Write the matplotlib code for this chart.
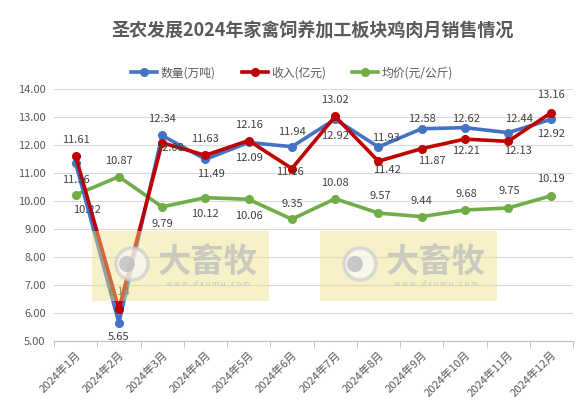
import matplotlib
matplotlib.use('Agg')
import matplotlib.pyplot as plt
from matplotlib.patches import Rectangle, Circle

plt.rcParams['font.family'] = ['Noto Sans CJK SC', 'DejaVu Sans']

# data
months = ['2024年%d月' % m for m in range(1, 13)]
qty = [11.36, 5.65, 12.34, 11.49, 12.09, 11.94, 12.92, 11.93, 12.58, 12.62, 12.44, 12.92]
income = [11.61, 6.14, 12.08, 11.63, 12.16, 11.16, 13.02, 11.42, 11.87, 12.21, 12.13, 13.16]
price = [10.22, 10.87, 9.79, 10.12, 10.06, 9.35, 10.08, 9.57, 9.44, 9.68, 9.75, 10.19]

# label offsets in pixels (dx, dy up)
qty_off = [(0, -17), (0, -14), (0, 16), (6, -15), (0, -16), (0, 15),
           (0, -17), (8, 9), (0, 10), (1, 9), (11, 14), (0, -15)]
inc_off = [(0, 16), (0, 17), (8, -5), (0, 16), (0, 16), (-2, -3),
           (0, 16), (9, -9), (10, -12), (1, -12), (10, -10), (0, 18)]
prc_off = [(11, -15), (0, 16), (0, -17), (0, -16), (0, -17), (0, 15),
           (0, 16), (2, 17), (0, 16), (1, 16), (1, 17), (0, 17)]

W, H = 583, 407
fig = plt.figure(figsize=(W / 100, H / 100), dpi=100)
ax = fig.add_axes([54 / W, 1 - 341 / H, (573 - 54) / W, (341 - 89) / H])

x = list(range(len(months)))
series = [
    (qty, '#4472C4', '数量(万吨)', qty_off),
    (income, '#C00000', '收入(亿元)', inc_off),
    (price, '#70AD47', '均价(元/公斤)', prc_off),
]
order = {0: 3, 1: 4, 2: 2}
for i, (vals, col, name, offs) in enumerate(series):
    ax.plot(x, vals, color=col, lw=2.6, marker='o', ms=5.5, label=name,
            zorder=order[i])
    for xi, v, (dx, dy) in zip(x, vals, offs):
        ax.annotate('%.2f' % v, (xi, v), xytext=(dx, dy), textcoords='offset pixels',
                    ha='center', va='center', fontsize=8, color='#404040', zorder=6)

ax.set_xlim(-0.5, len(months) - 0.5)
ax.set_ylim(5, 14)
ax.set_yticks([5 + i for i in range(10)])
ax.set_yticklabels(['%.2f' % (5 + i) for i in range(10)])
ax.grid(axis='y', color='#d9d9d9', lw=0.8)
ax.set_axisbelow(True)
for s in ['left', 'right', 'top']:
    ax.spines[s].set_visible(False)
ax.spines['bottom'].set_color('#bfbfbf')
ax.tick_params(axis='y', length=0, labelsize=8, labelcolor='#595959', pad=6)
ax.set_xticks(x)
ax.set_xticklabels(months, rotation=45, ha='right', rotation_mode='anchor')
ax.tick_params(axis='x', length=0, labelsize=8, labelcolor='#595959', pad=6)
ax.set_xticks([i - 0.5 for i in range(len(months) + 1)], minor=True)
ax.tick_params(axis='x', which='minor', length=5, color='#bfbfbf')

fig.text(313 / W, 1 - 31 / H, '圣农发展2024年家禽饲养加工板块鸡肉月销售情况',
         ha='center', va='center', fontsize=13, fontweight='bold', color='#595959')
fig.legend(loc='center', bbox_to_anchor=(292 / W, 1 - 73 / H), ncol=3, frameon=False,
           fontsize=8.5, labelcolor='#595959', handlelength=2.2, columnspacing=2.2,
           handletextpad=0.3)

# watermarks
for bx in [92, 320]:
    fig.patches.append(Rectangle((bx / W, 1 - 301 / H), 177 / W, 70 / H,
                                 transform=fig.transFigure, facecolor='#ece084',
                                 alpha=0.45, edgecolor='none', zorder=10))
    fig.patches.append(Circle((bx + 40, H - 264), 16, transform=None,
                              facecolor='#f8f8f8', edgecolor='#cfcfcf', lw=2.5,
                              alpha=0.75, zorder=11))
    fig.patches.append(Circle((bx + 35, H - 264), 8, transform=None,
                              facecolor='#bdbdbd', edgecolor='none', alpha=0.8, zorder=12))
    fig.text((bx + 116) / W, 1 - 262 / H, '大畜牧', ha='center', va='center',
             fontsize=24, fontweight='bold', color='#c6c6c0', alpha=0.9, zorder=12)
    fig.text((bx + 116) / W, 1 - 284 / H, 'w w w . d x u m u . c o m', ha='center',
             va='center', fontsize=5.5, color='#c6c6c0', zorder=12)

fig.savefig('out.png', dpi=100)
